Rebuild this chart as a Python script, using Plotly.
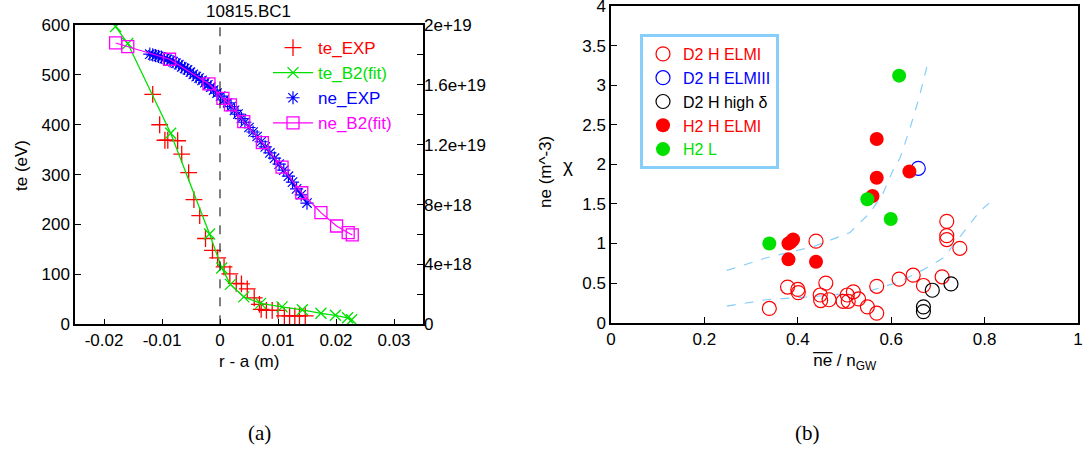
import plotly.graph_objects as go

# ---------------- Panel (a) data ----------------
te_exp_x = [-0.0116, -0.0104, -0.0095, -0.0090, -0.0073, -0.0066, -0.0054, -0.0045, -0.0035,
            -0.0025, -0.0013, -0.0004, 0.0007, 0.0017, 0.0028, 0.0037, 0.0047, 0.0059, 0.0068,
            0.0071, 0.0080, 0.0090, 0.0100, 0.0111, 0.0120, 0.0129, 0.0137, 0.0147]
te_exp_y = [461, 400, 369, 369, 368, 341, 304, 250, 218,
            172, 148, 133, 115, 101, 82, 81, 71, 53, 40,
            30, 28, 28, 28, 17, 17, 17, 17, 17]

te_b2_x = [-0.0180, -0.0159, -0.0085, -0.0018, 0.0003, 0.0018, 0.0041, 0.0070, 0.0107,
           0.0142, 0.0174, 0.0199, 0.0220, 0.0227]
te_b2_y = [597, 563, 383, 181, 113, 80, 55, 42, 35, 29, 22, 18, 13, 9]

ne_exp_x = [-0.0121, -0.0116, -0.0111, -0.0106, -0.0101, -0.0096, -0.0091, -0.0086, -0.0081,
            -0.0076, -0.0071, -0.0066, -0.0061, -0.0056, -0.0051, -0.0046, -0.0041, -0.0036,
            -0.0031, -0.0026, -0.0021, -0.0016, -0.0011, -0.0005, 0.0001, 0.0007, 0.0013,
            0.0019, 0.0025, 0.0031, 0.0037, 0.0043, 0.0050, 0.0057, 0.0064, 0.0071, 0.0078,
            0.0086, 0.0094, 0.0102, 0.0110, 0.0118, 0.0125, 0.0132, 0.0140, 0.0150]
ne_exp_y = [1.805e19, 1.800e19, 1.795e19, 1.790e19, 1.785e19, 1.775e19, 1.770e19, 1.760e19, 1.755e19,
            1.745e19, 1.735e19, 1.720e19, 1.710e19, 1.700e19, 1.685e19, 1.670e19, 1.655e19, 1.645e19,
            1.630e19, 1.615e19, 1.600e19, 1.585e19, 1.565e19, 1.545e19, 1.525e19, 1.500e19, 1.480e19,
            1.455e19, 1.430e19, 1.405e19, 1.375e19, 1.350e19, 1.315e19, 1.285e19, 1.255e19, 1.220e19,
            1.185e19, 1.145e19, 1.110e19, 1.070e19, 1.030e19, 0.990e19, 0.950e19, 0.905e19, 0.865e19,
            0.810e19]

ne_b2_x = [-0.0180, -0.0159, -0.0087, -0.0019, 0.0005, 0.0018, 0.0041, 0.0073, 0.0107,
           0.0141, 0.0174, 0.0201, 0.0221, 0.0228]
ne_b2_y = [1.880e19, 1.855e19, 1.771e19, 1.606e19, 1.510e19, 1.466e19, 1.354e19, 1.214e19, 1.050e19,
           0.879e19, 0.746e19, 0.657e19, 0.612e19, 0.597e19]

te_ticks = [0, 100, 200, 300, 400, 500, 600]
ne_ticks = [0, 4e18, 8e18, 1.2e19, 1.6e19, 2e19]
ne_ticktext = ["0", "4e+18", "8e+18", "1.2e+19", "1.6e+19", "2e+19"]
r_ticks = [-0.02, -0.01, 0, 0.01, 0.02, 0.03]
r_ticktext = ["-0.02", "-0.01", "0", "0.01", "0.02", "0.03"]

# ---------------- Panel (b) data ----------------
d2_elmi_x = [0.339, 0.378, 0.400, 0.401, 0.439, 0.460, 0.448, 0.449, 0.467, 0.497, 0.506, 0.508,
             0.519, 0.530, 0.549, 0.569, 0.569, 0.617, 0.647, 0.669, 0.709, 0.719, 0.719, 0.719, 0.747]
d2_elmi_y = [0.18, 0.45, 0.42, 0.38, 1.03, 0.50, 0.35, 0.28, 0.29, 0.27, 0.35, 0.27,
             0.39, 0.30, 0.20, 0.46, 0.12, 0.55, 0.60, 0.47, 0.58, 1.28, 1.10, 1.05, 0.94]
d2_elmiii_x = [0.658]
d2_elmiii_y = [1.95]
d2_highd_x = [0.669, 0.669, 0.688, 0.728]
d2_highd_y = [0.20, 0.14, 0.41, 0.49]
h2_elmi_x = [0.569, 0.569, 0.560, 0.639, 0.390, 0.385, 0.380, 0.380, 0.439]
h2_elmi_y = [2.32, 1.83, 1.60, 1.91, 1.05, 1.02, 1.00, 0.80, 0.77]
h2_l_x = [0.339, 0.549, 0.599, 0.617]
h2_l_y = [1.00, 1.56, 1.31, 3.12]

upper_x = [0.248, 0.333, 0.433, 0.512, 0.555, 0.583, 0.605, 0.619, 0.640, 0.660, 0.678]
upper_y = [0.66, 0.82, 0.96, 1.14, 1.39, 1.64, 1.94, 2.08, 2.45, 2.85, 3.27]
lower_x = [0.248, 0.333, 0.433, 0.548, 0.619, 0.669, 0.712, 0.740, 0.769, 0.790, 0.810]
lower_y = [0.21, 0.29, 0.33, 0.39, 0.52, 0.67, 0.82, 1.03, 1.24, 1.41, 1.51]

chi_ticks = [0, 0.5, 1, 1.5, 2, 2.5, 3, 3.5, 4]
chi_ticktext = ["0", "0.5", "1", "1.5", "2", "2.5", "3", "3.5", "4"]
ng_ticks = [0, 0.2, 0.4, 0.6, 0.8, 1]
ng_ticktext = ["0", "0.2", "0.4", "0.6", "0.8", "1"]

RED = "#ff0000"
GREEN = "#00e000"
BLUE = "#0000ff"
MAG = "#ff00ff"
LBLUE = "#87cefa"
FONT = "Liberation Sans, Arial, sans-serif"
SERIF = "Liberation Serif, DejaVu Serif, serif"
W, H = 1084, 450

fig = go.Figure()

# Panel (a)
fig.add_trace(go.Scatter(x=te_exp_x, y=te_exp_y, mode="markers", name=f"<span style='color:{RED}'>te_EXP</span>",
                         marker=dict(symbol="cross-thin-open", size=12, color=RED, line=dict(width=1.3, color=RED)),
                         xaxis="x", yaxis="y", legend="legend"))
fig.add_trace(go.Scatter(x=te_b2_x, y=te_b2_y, mode="lines+markers", name=f"<span style='color:{GREEN}'>te_B2(fit)</span>",
                         line=dict(color=GREEN, width=1.3),
                         marker=dict(symbol="x-thin-open", size=11, color=GREEN, line=dict(width=1.3, color=GREEN)),
                         xaxis="x", yaxis="y", legend="legend"))
fig.add_trace(go.Scatter(x=ne_exp_x, y=ne_exp_y, mode="lines", showlegend=False,
                         line=dict(color="#0000a0", width=1.5), hoverinfo="skip",
                         xaxis="x", yaxis="y2"))
fig.add_trace(go.Scatter(x=ne_exp_x, y=ne_exp_y, mode="markers", name=f"<span style='color:{BLUE}'>ne_EXP</span>",
                         marker=dict(symbol="asterisk-open", size=11, color=BLUE, line=dict(width=1.2, color=BLUE)),
                         xaxis="x", yaxis="y2", legend="legend"))
fig.add_trace(go.Scatter(x=ne_b2_x, y=ne_b2_y, mode="lines+markers", name=f"<span style='color:{MAG}'>ne_B2(fit)</span>",
                         line=dict(color=MAG, width=1.2),
                         marker=dict(symbol="square-open", size=12, color=MAG, line=dict(width=1.3, color=MAG)),
                         xaxis="x", yaxis="y2", legend="legend"))

# Panel (b)
fig.add_trace(go.Scatter(x=upper_x, y=upper_y, mode="lines", showlegend=False, hoverinfo="skip",
                         line=dict(color=LBLUE, width=1.2, dash="dash"), xaxis="x3", yaxis="y3"))
fig.add_trace(go.Scatter(x=lower_x, y=lower_y, mode="lines", showlegend=False, hoverinfo="skip",
                         line=dict(color=LBLUE, width=1.2, dash="dash"), xaxis="x3", yaxis="y3"))
fig.add_trace(go.Scatter(x=d2_elmi_x, y=d2_elmi_y, mode="markers", name=f"<span style='color:{RED}'>D2 H ELMI</span>",
                         marker=dict(symbol="circle-open", size=14, color=RED, line=dict(width=1.2, color=RED)),
                         xaxis="x3", yaxis="y3", legend="legend2"))
fig.add_trace(go.Scatter(x=d2_elmiii_x, y=d2_elmiii_y, mode="markers", name=f"<span style='color:{BLUE}'>D2 H ELMIII</span>",
                         marker=dict(symbol="circle-open", size=14, color=BLUE, line=dict(width=1.2, color=BLUE)),
                         xaxis="x3", yaxis="y3", legend="legend2"))
fig.add_trace(go.Scatter(x=d2_highd_x, y=d2_highd_y, mode="markers", name="<span style='color:#000000'>D2 H high δ</span>",
                         marker=dict(symbol="circle-open", size=14, color="#000000", line=dict(width=1.2, color="#000000")),
                         xaxis="x3", yaxis="y3", legend="legend2"))
fig.add_trace(go.Scatter(x=h2_elmi_x, y=h2_elmi_y, mode="markers", name=f"<span style='color:{RED}'>H2 H ELMI</span>",
                         marker=dict(symbol="circle", size=14, color=RED),
                         xaxis="x3", yaxis="y3", legend="legend2"))
fig.add_trace(go.Scatter(x=h2_l_x, y=h2_l_y, mode="markers", name=f"<span style='color:{GREEN}'>H2 L</span>",
                         marker=dict(symbol="circle", size=14, color=GREEN),
                         xaxis="x3", yaxis="y3", legend="legend2"))

axcommon = dict(showline=True, linecolor="black", linewidth=1.5, mirror=True, ticks="inside",
                ticklen=6, tickcolor="black", showgrid=False, zeroline=False, automargin=False,
                ticklabeloverflow="allow",
                tickfont=dict(family=FONT, size=17, color="black"))


def ann(text, px, py, size=17, angle=0, family=FONT):
    return dict(text=text, xref="paper", yref="paper", x=px / W, y=1 - py / H,
                xanchor="center", yanchor="middle", showarrow=False, textangle=angle,
                font=dict(family=family, size=size, color="black"))


fig.update_layout(
    width=W, height=H,
    margin=dict(l=0, r=0, t=0, b=0, autoexpand=False),
    paper_bgcolor="white", plot_bgcolor="white",
    font=dict(family=FONT, size=17, color="black"),
    xaxis=dict(domain=[75/W, 423/W], range=[-0.025, 0.035], anchor="y",
               tickvals=r_ticks, ticktext=r_ticktext, **axcommon),
    yaxis=dict(domain=[1-324.3/H, 1-25/H], range=[0, 600], anchor="x",
               tickvals=te_ticks, ticktext=[str(v) for v in te_ticks], **axcommon),
    yaxis2=dict(range=[0, 2e19], overlaying="y", side="right", anchor="x",
                tickvals=ne_ticks, ticktext=ne_ticktext, automargin=False,
                showline=False, ticks="inside", ticklen=6, tickcolor="black",
                minor=dict(ticks="inside", ticklen=6, dtick=2e18, tick0=0, tickcolor="black", showgrid=False),
                showgrid=False, zeroline=False, tickfont=dict(family=FONT, size=17, color="black")),
    xaxis3=dict(domain=[611/W, 1078/W], range=[0, 1], anchor="y3",
                tickvals=ng_ticks, ticktext=ng_ticktext, **axcommon),
    yaxis3=dict(domain=[1-322.7/H, 1-6/H], range=[0, 4], anchor="x3",
                tickvals=chi_ticks, ticktext=chi_ticktext, **axcommon),
    legend=dict(x=268/W, y=1-30/H, xanchor="left", yanchor="top",
                bgcolor="rgba(255,255,255,0)", borderwidth=0,
                font=dict(family=FONT, size=17), tracegroupgap=0, itemwidth=40),
    legend2=dict(x=640/W, y=1-34/H, xanchor="left", yanchor="top",
                 bgcolor="white", bordercolor=LBLUE, borderwidth=3,
                 font=dict(family=FONT, size=16), tracegroupgap=0, itemwidth=30),
    shapes=[dict(type="line", xref="x", yref="y domain", x0=0, x1=0, y0=0, y1=1,
                 line=dict(color="black", width=1, dash="dash"))],
    annotations=[
        ann("10815.BC1", 248, 11),
        ann("te (eV)", 22, 166, angle=-90),
        ann("ne (m^-3)", 545, 172, angle=-90),
        ann("r - a (m)", 249, 361),
        ann("χ", 568, 165, size=19),
        ann("n\u0305e\u0305 / n<sub>GW</sub>", 845, 362),
        ann("(a)", 259, 433, size=21, family=SERIF),
        ann("(b)", 807, 433, size=21, family=SERIF),
    ],
)

fig.write_html("out.html", config={"displayModeBar": False},
               post_script="document.body.style.margin='0px';document.body.style.overflow='hidden';")
